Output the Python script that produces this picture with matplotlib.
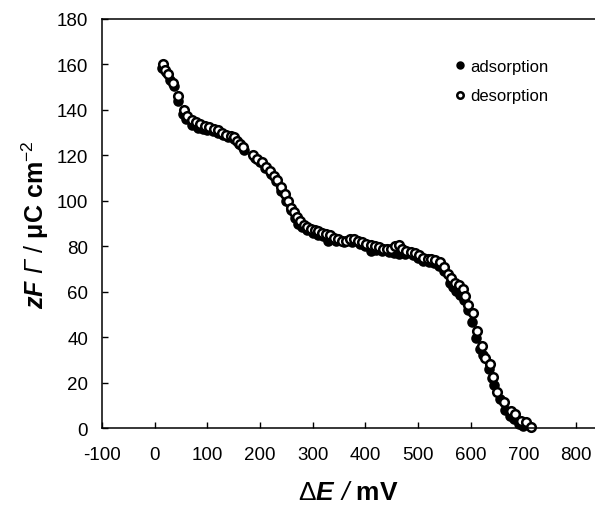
import matplotlib
matplotlib.use("Agg")
import matplotlib.pyplot as plt

plt.rcParams['font.family'] = ['Liberation Sans', 'DejaVu Sans']
plt.rcParams['axes.unicode_minus'] = False
plt.rcParams['mathtext.fontset'] = 'custom'
plt.rcParams['mathtext.rm'] = 'Liberation Sans:italic'
plt.rcParams['mathtext.it'] = 'Liberation Sans:italic:bold'
plt.rcParams['mathtext.bf'] = 'Liberation Sans:bold'
plt.rcParams['mathtext.sf'] = 'Liberation Sans'

# Surface charge vs. potential shift (mV, µC cm^-2)
des_x = [15, 20, 25, 35, 45, 55, 62, 70, 78, 86, 95, 104, 112, 120, 128, 136, 144, 150,
         156, 162, 168, 187, 195, 203, 211, 219, 226, 233, 240, 247, 253, 259, 265, 270,
         276, 283, 290, 297, 304, 311, 318, 325, 332, 341, 349, 356, 363, 371, 378, 386,
         394, 402, 410, 418, 425, 433, 441, 449, 456, 463, 470, 478, 486, 494, 502, 510,
         518, 525, 533, 541, 549, 556, 563, 570, 578, 585, 590, 595, 604, 612, 622, 628,
         636, 643, 650, 663, 676, 685, 696, 705, 714]
des_y = [160, 157.5, 156, 152, 146, 140, 137.5, 135.5, 134.5, 134, 133, 132.5, 131.5, 131,
         130, 129, 128.5, 128, 126.5, 125, 123.5, 120, 118.5, 117, 115, 113, 111, 109, 106,
         103, 100, 97, 95, 93, 91, 89.5, 88.5, 87.5, 87, 86.5, 86, 85.5, 85, 83.5, 83, 82.5,
         82.5, 83, 83, 82.5, 82, 81, 80.5, 80, 79.5, 79, 79, 79, 80, 80.5, 79, 78, 77.5, 77,
         76, 75, 74.5, 74.5, 74, 73, 71, 68, 66, 64, 63, 61, 58, 54, 50.5, 42.5, 36, 31,
         28, 22.5, 16, 11.5, 7.5, 6, 3, 2.5, 0.5]

ads_x = [14, 22, 30, 36, 45, 54, 60, 71, 83, 92, 100, 110, 120, 130, 140, 150, 160, 170,
         190, 200, 210, 220, 230, 240, 250, 258, 266, 273, 280, 290, 300, 310, 320, 330,
         345, 360, 375, 390, 400, 410, 420, 432, 445, 455, 464, 475, 490, 500, 510, 520,
         530, 540, 550, 560, 566, 572, 580, 587, 595, 602, 610, 617, 623, 634, 640, 645,
         655, 665, 674, 683, 692, 700]
ads_y = [158.5, 156.5, 153, 150.5, 144, 138, 136, 133.5, 132, 131.5, 131, 130.5, 130, 129,
         128, 127, 125, 122.5, 119, 117, 114.5, 112, 108.5, 104.5, 100, 96, 92.5, 90, 88.5,
         87, 86, 85, 84.5, 82.5, 82.5, 82, 82, 81, 80, 78, 78.5, 78, 77.5, 77, 76.5, 76.5,
         76, 75, 73.5, 73, 72.5, 71.5, 69, 64, 62, 60.5, 58.5, 56.5, 52, 46.5, 39.5, 35, 32,
         26, 22, 19, 13, 8, 5.5, 4, 2, 1]

x_ticks = [-100, 0, 100, 200, 300, 400, 500, 600, 700, 800]
y_ticks = [0, 20, 40, 60, 80, 100, 120, 140, 160, 180]

fig = plt.figure(figsize=(5.95, 5.06), dpi=100)
ax = fig.add_axes([0.1714, 0.152, 0.8286, 0.8085])

ax.plot(ads_x, ads_y, 'o', ms=6.2, mfc='black', mec='black', mew=1.4,
        ls='none', label='adsorption', clip_on=False)
ax.plot(des_x, des_y, 'o', ms=6.2, mfc='white', mec='black', mew=1.8,
        ls='none', label='desorption', clip_on=False)

ax.set_xlim(-100, 836)
ax.set_ylim(0, 180)
ax.set_xticks(x_ticks)
ax.set_yticks(y_ticks)
ax.spines['right'].set_visible(False)
for s in ('left', 'top', 'bottom'):
    ax.spines[s].set_linewidth(1.1)
ax.tick_params(direction='in', length=4, width=1.0, labelsize=13.5)
ax.tick_params(axis='x', pad=13)
ax.tick_params(axis='y', pad=10)

ax.set_xlabel(r'$\mathsf{\Delta}E\ /$ mV', fontsize=19, fontweight='bold', labelpad=12)
ax.set_ylabel(r'$zF\ Γ\ \mathsf{/}$ μC cm$^{\mathsf{-2}}$', fontsize=18,
              fontweight='bold', labelpad=4)

leg = ax.legend(loc='upper left', bbox_to_anchor=(0.703, 0.918), frameon=False,
                fontsize=12, handlelength=0.6, handletextpad=0.3, markerscale=0.75,
                labelspacing=0.85, borderaxespad=0)

fig.savefig('out.png', dpi=100)
